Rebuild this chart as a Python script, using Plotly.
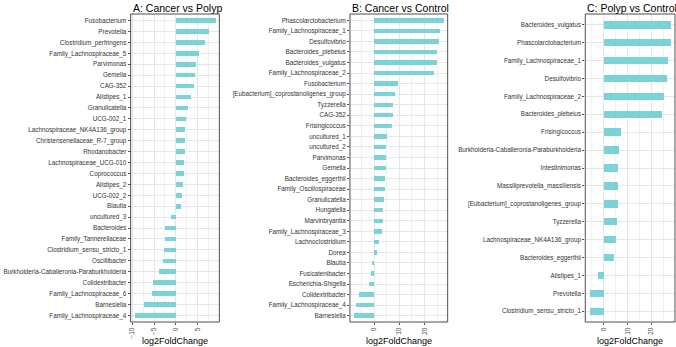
import plotly.graph_objects as go
from plotly.subplots import make_subplots

# Panel A: Cancer vs Polyp (top to bottom)
a_taxa = ["Fusobacterium", "Prevotella", "Clostridium_perfringens", "Family_Lachnospiraceae_5",
          "Parvimonas", "Gemella", "CAG-352", "Alistipes_1", "Granulicatella", "UCG-002_1",
          "Lachnospiraceae_NK4A136_group", "Christensenellaceae_R-7_group", "Rhodanobacter",
          "Lachnospiraceae_UCG-010", "Coprococcus", "Alistipes_2", "UCG-002_2", "Blautia",
          "uncultured_3", "Bacteroides", "Family_Tannerellaceae", "Clostridium_sensu_stricto_1",
          "Oscillibacter", "Burkholderia-Caballeronia-Paraburkholderia", "Colidextribacter",
          "Family_Lachnospiraceae_6", "Barnesiella", "Family_Lachnospiraceae_4"]
a_lfc = [9.1, 7.6, 6.5, 5.2, 4.6, 4.2, 4.1, 3.4, 2.6, 2.2, 2.0, 2.0, 1.9, 1.8, 1.7, 1.6, 1.4, 1.0,
         -1.1, -2.5, -2.65, -2.7, -2.95, -3.9, -5.45, -5.5, -7.35, -9.5]

# Panel B: Cancer vs Control
b_taxa = ["Phascolarctobacterium", "Family_Lachnospiraceae_1", "Desulfovibrio", "Bacteroides_plebeius",
          "Bacteroides_vulgatus", "Family_Lachnospiraceae_2", "Fusobacterium",
          "[Eubacterium]_coprostanoligenes_group", "Tyzzerella", "CAG-352", "Frisingicoccus",
          "uncultured_1", "uncultured_2", "Parvimonas", "Gemella", "Bacteroides_eggerthii",
          "Family_Oscillospiraceae", "Granulicatella", "Hungatella", "Marvinbryantia",
          "Family_Lachnospiraceae_3", "Lachnoclostridium", "Dorea", "Blautia", "Fusicatenibacter",
          "Escherichia-Shigella", "Colidextribacter", "Family_Lachnospiraceae_4", "Barnesiella"]
b_lfc = [27.6, 26.1, 25.7, 25.1, 25.1, 23.6, 9.5, 8.3, 7.6, 7.4, 7.0, 4.9, 4.6, 4.6, 4.6, 4.2,
         4.1, 3.9, 3.6, 3.6, 3.2, 2.0, 1.3, -0.8, -1.2, -2.0, -5.9, -7.2, -7.9]

# Panel C: Polyp vs Control
c_taxa = ["Bacteroides_vulgatus", "Phascolarctobacterium", "Family_Lachnospiraceae_1", "Desulfovibrio",
          "Family_Lachnospiraceae_2", "Bacteroides_plebeius", "Frisingicoccus",
          "Burkholderia-Caballeronia-Paraburkholderia", "Intestinimonas",
          "Massiliprevotella_massiliensis", "[Eubacterium]_coprostanoligenes_group", "Tyzzerella",
          "Lachnospiraceae_NK4A136_group", "Bacteroides_eggerthii", "Alistipes_1", "Prevotella",
          "Clostridium_sensu_stricto_1"]
c_lfc = [28.4, 28.3, 27.0, 26.9, 25.6, 24.5, 7.2, 6.6, 6.3, 5.9, 5.9, 5.6, 5.1, 4.6, -2.3, -5.8, -5.9]

titles = ["A: Cancer vs Polyp", "B: Cancer vs Control", "C: Polyp vs Control"]
x_ticks = [[-10, -5, 0, 5], [0, 10, 20], [0, 10, 20]]

W, H = 676, 347
bar_color = "#7BD3D7"
panels = [(a_taxa, a_lfc), (b_taxa, b_lfc), (c_taxa, c_lfc)]
xdom_px = [(129, 218), (349, 447), (585, 675)]
xranges = [[-10.4, 10.0], [-9.6, 29.2], [-7.8, 30.0]]
minor_dt = [2.5, 5, 5]
ytop_px, ybot_px = 14, 322

fig = make_subplots(rows=1, cols=3)
font = "Liberation Sans, Arial, sans-serif"

for i, (taxa, vals) in enumerate(panels):
    fig.add_trace(go.Bar(x=vals, y=taxa, orientation="h", marker=dict(color=bar_color, line=dict(width=0)),
                         width=0.42, showlegend=False), row=1, col=i + 1)
    n = len(taxa)
    xa = "xaxis" if i == 0 else f"xaxis{i+1}"
    ya = "yaxis" if i == 0 else f"yaxis{i+1}"
    fig.layout[xa].update(
        domain=[xdom_px[i][0] / W, xdom_px[i][1] / W], range=xranges[i],
        tickvals=x_ticks[i], tickangle=-90, tickfont=dict(size=6.5, color="#4D4D4D", family=font),
        ticks="outside", ticklen=2, tickcolor="#555555",
        showgrid=True, gridcolor="#E6E6E6", gridwidth=0.8, zeroline=False,
        minor=dict(dtick=minor_dt[i], tick0=0, showgrid=True, gridcolor="#F0F0F0", gridwidth=0.5),
    )
    fig.layout[ya].update(
        domain=[(H - ybot_px) / H, (H - ytop_px) / H],
        categoryorder="array", categoryarray=taxa, range=[n - 0.4, -0.6],
        tickfont=dict(size=6.3, color="#333333", family=font),
        ticks="outside", ticklen=2, tickcolor="#555555",
        showgrid=True, gridcolor="#E6E6E6", gridwidth=0.8, zeroline=False,
    )
    xr = "x" if i == 0 else f"x{i+1}"
    yr = "y" if i == 0 else f"y{i+1}"
    fig.add_shape(type="rect", xref=f"{xr} domain", yref=f"{yr} domain", x0=0, x1=1, y0=0, y1=1,
                  line=dict(color="#4D4D4D", width=1), fillcolor="rgba(0,0,0,0)", layer="above")
    fig.add_annotation(text=titles[i], xref="paper", yref="paper", x=xdom_px[i][0] / W, y=1.0,
                       xanchor="left", yanchor="top", showarrow=False,
                       font=dict(size=10.5, color="#000000", family=font))
    fig.add_annotation(text="log2FoldChange", xref="paper", yref="paper",
                       x=(xdom_px[i][0] + xdom_px[i][1]) / 2 / W, y=(H - 341) / H,
                       xanchor="center", yanchor="middle", showarrow=False,
                       font=dict(size=9, color="#000000", family=font))

fig.update_layout(width=W, height=H, margin=dict(l=0, r=0, t=0, b=0),
                  plot_bgcolor="white", paper_bgcolor="white", bargap=0)

fig.write_html("out.html", config={"displayModeBar": False},
               post_script="document.body.style.margin='0';document.body.style.overflow='hidden';")
